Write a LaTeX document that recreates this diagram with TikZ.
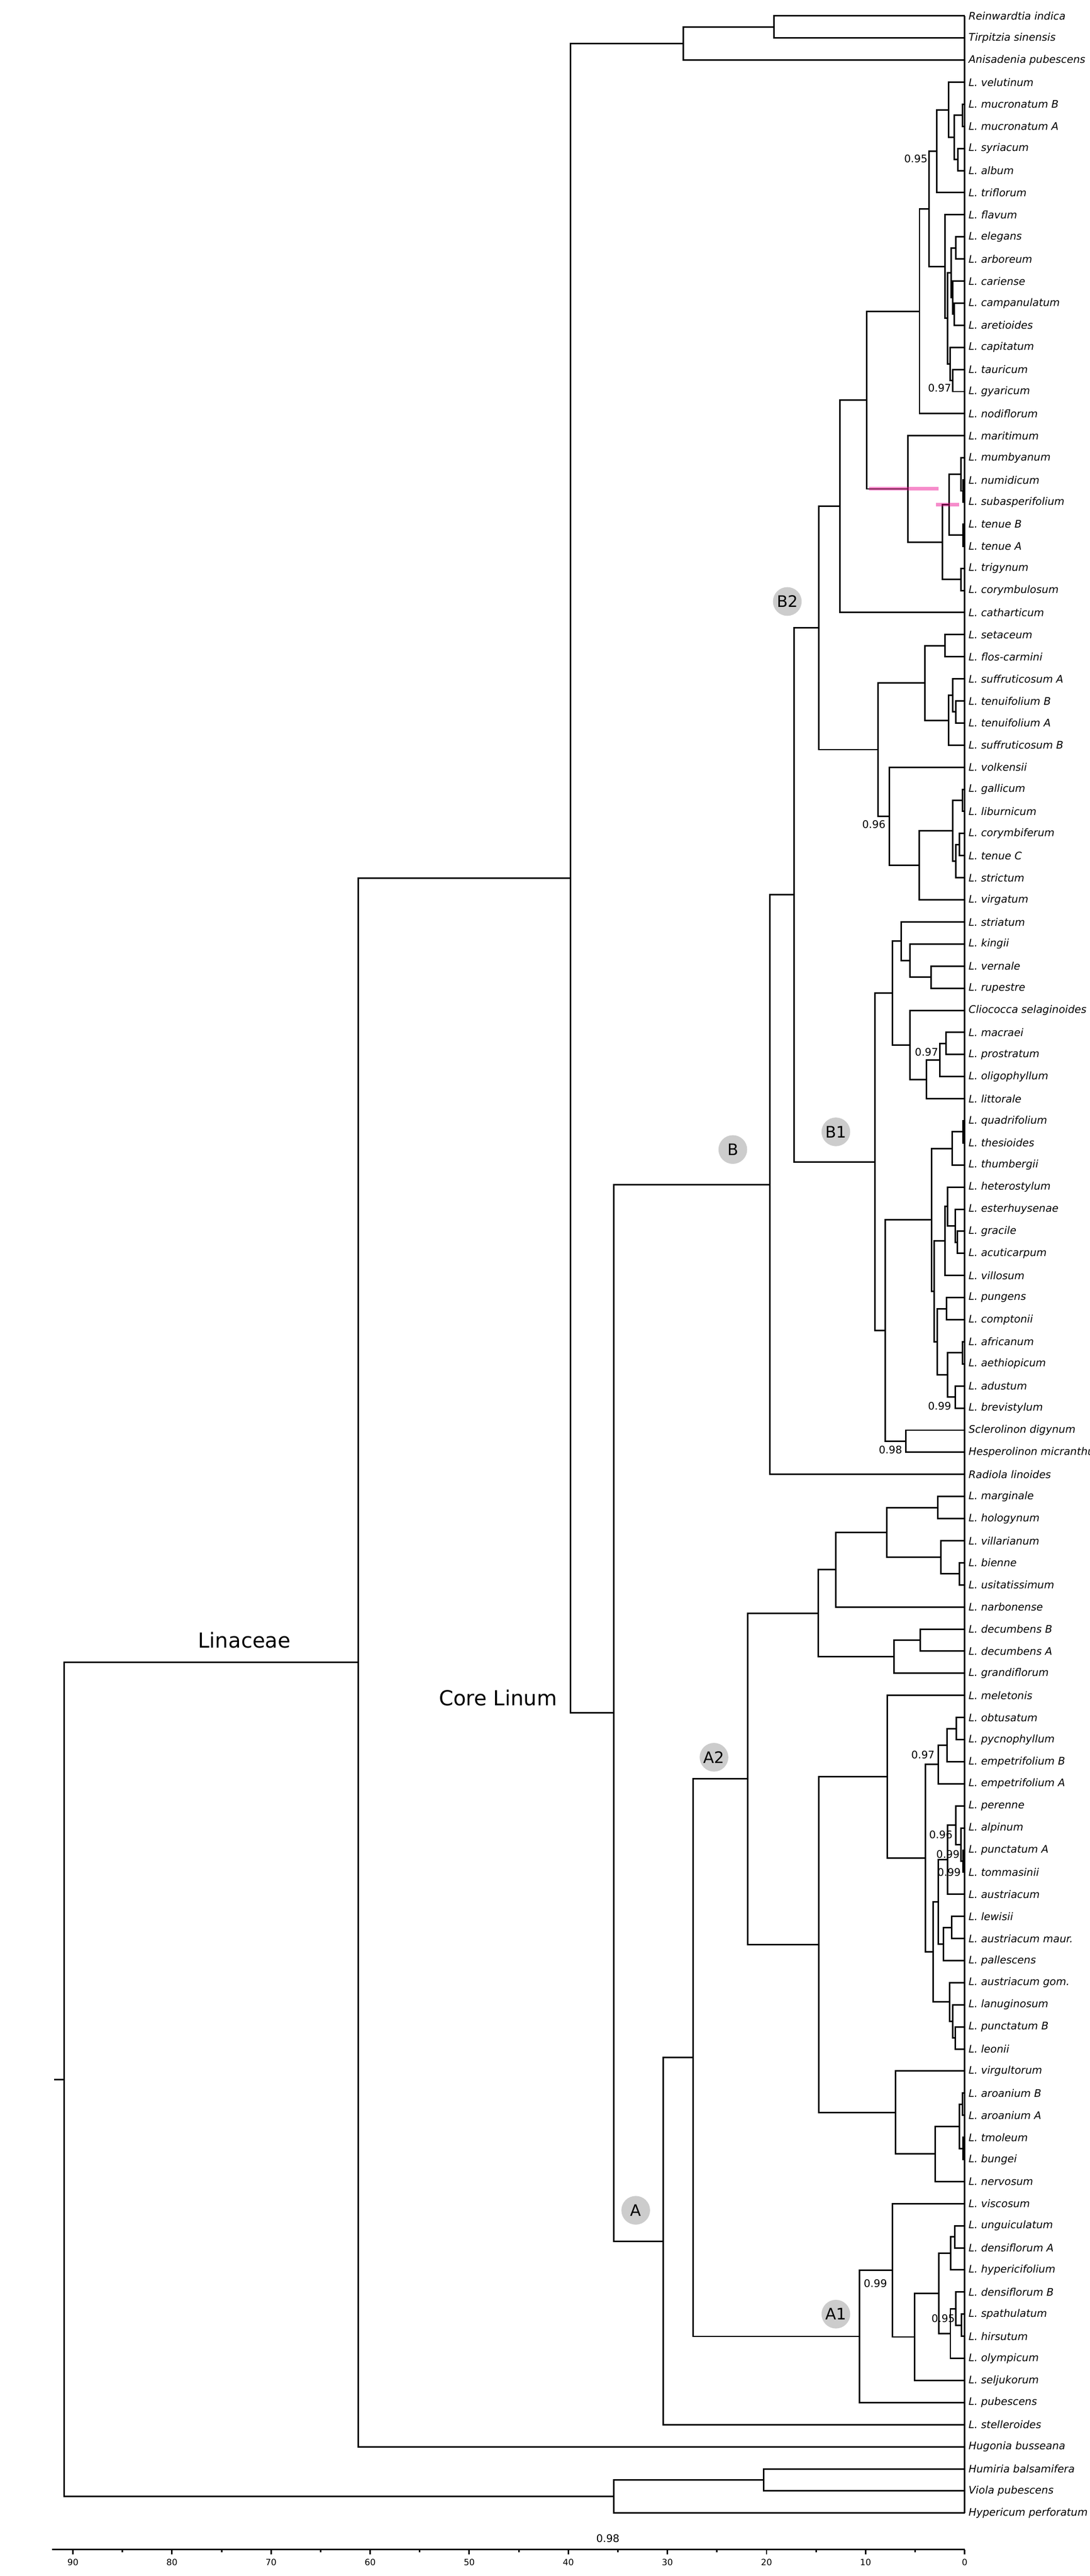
\documentclass[tikz,border=0pt]{standalone}
\usepackage{fontspec}
\setmainfont{DejaVu Sans}

\begin{document}
\begin{tikzpicture}[
x=-1.935mm, y=-4.315mm,
branch/.style={line width=0.85pt},
leaf/.style={anchor=west, inner xsep=0.7mm, inner ysep=0pt, font=\fontsize{5.8}{7}\selectfont\itshape},
prob/.style={anchor=east, inner sep=0pt, font=\fontsize{5.8}{7}\selectfont},
clade/.style={circle, fill=black!20, minimum size=5.6mm, inner sep=0pt, font=\fontsize{8.8}{10}\selectfont},
group/.style={font=\fontsize{11.5}{13}\selectfont},
hpd/.style={draw=magenta, draw opacity=0.45, line width=2pt},
tick/.style={font=\fontsize{4.8}{5}\selectfont, inner sep=0pt},
]
\path[use as bounding box, fill=white] (97.36,-0.718) rectangle (-12.61,115.85);

% tips, top to bottom
\foreach \sp [count=\i from 0] in {Reinwardtia indica, Tirpitzia sinensis,
  Anisadenia pubescens, L. velutinum, L. mucronatum B, L. mucronatum A,
  L. syriacum, L. album, L. triflorum, L. flavum, L. elegans, L. arboreum,
  L. cariense, L. campanulatum, L. aretioides, L. capitatum, L. tauricum,
  L. gyaricum, L. nodiflorum, L. maritimum, L. mumbyanum, L. numidicum,
  L. subasperifolium, L. tenue B, L. tenue A, L. trigynum, L. corymbulosum,
  L. catharticum, L. setaceum, L. flos-carmini, L. suffruticosum A,
  L. tenuifolium B, L. tenuifolium A, L. suffruticosum B, L. volkensii,
  L. gallicum, L. liburnicum, L. corymbiferum, L. tenue C, L. strictum,
  L. virgatum, L. striatum, L. kingii, L. vernale, L. rupestre,
  Cliococca selaginoides, L. macraei, L. prostratum, L. oligophyllum,
  L. littorale, L. quadrifolium, L. thesioides, L. thumbergii,
  L. heterostylum, L. esterhuysenae, L. gracile, L. acuticarpum, L. villosum,
  L. pungens, L. comptonii, L. africanum, L. aethiopicum, L. adustum,
  L. brevistylum, Sclerolinon digynum, Hesperolinon micranthum,
  Radiola linoides, L. marginale, L. hologynum, L. villarianum, L. bienne,
  L. usitatissimum, L. narbonense, L. decumbens B, L. decumbens A,
  L. grandiflorum, L. meletonis, L. obtusatum, L. pycnophyllum,
  L. empetrifolium B, L. empetrifolium A, L. perenne, L. alpinum,
  L. punctatum A, L. tommasinii, L. austriacum, L. lewisii,
  L. austriacum maur., L. pallescens, L. austriacum gom., L. lanuginosum,
  L. punctatum B, L. leonii, L. virgultorum, L. aroanium B, L. aroanium A,
  L. tmoleum, L. bungei, L. nervosum, L. viscosum, L. unguiculatum,
  L. densiflorum A, L. hypericifolium, L. densiflorum B, L. spathulatum,
  L. hirsutum, L. olympicum, L. seljukorum, L. pubescens, L. stelleroides,
  Hugonia busseana, Humiria balsamifera, Viola pubescens,
  Hypericum perforatum}
  \node[leaf] (t\i) at (0,\i) {\sp};

% internal nodes (age, row)
\coordinate (rt) at (19.26,0.5);
\coordinate (rta) at (28.4,1.25);
% B2
\coordinate (muc) at (0.24,4.5);
\coordinate (syal) at (0.67,6.5);
\coordinate (mucsy) at (1.03,5.5);
\coordinate (velg) at (1.63,4.25);
\coordinate (trig) at (2.83,6.125);
\coordinate (elar) at (0.89,10.5);
\coordinate (capr) at (1.03,13.5);
\coordinate (carg) at (1.20,12.75);
\coordinate (elcar) at (1.37,11.625);
\coordinate (tagy) at (1.20,16.5);
\coordinate (capg) at (1.49,15.75);
\coordinate (eleg) at (1.73,13.6875);
\coordinate (flag) at (1.99,11.34375);
\coordinate (syrg) at (3.60,8.734375);
\coordinate (nod) at (4.56,13.367);
\coordinate (numsub) at (0.19,21.5);
\coordinate (mumb) at (0.36,20.75);
\coordinate (tenba) at (0.19,23.5);
\coordinate (mten) at (1.56,22.125);
\coordinate (tric) at (0.36,25.5);
\coordinate (mtri) at (2.23,23.8125);
\coordinate (mari) at (5.71,21.40625);
\coordinate (nodm) at (9.90,17.3867);
\coordinate (cath) at (12.6,22.1934);
\coordinate (setf) at (1.99,28.5);
\coordinate (tenf) at (0.89,31.5);
\coordinate (sufa) at (1.20,30.75);
\coordinate (sufb) at (1.63,31.875);
\coordinate (setsuf) at (4.03,30.1875);
\coordinate (galb) at (0.24,35.5);
\coordinate (cote) at (0.53,37.5);
\coordinate (cost) at (0.89,38.25);
\coordinate (galst) at (1.20,36.875);
\coordinate (virg) at (4.60,38.4375);
\coordinate (volk) at (7.58,36.21875);
\coordinate (suvo) at (8.75,33.2031);
\coordinate (bt) at (14.7,27.6982);
% B1
\coordinate (verr) at (3.40,43.5);
\coordinate (king) at (5.52,42.75);
\coordinate (stri) at (6.43,41.875);
\coordinate (macp) at (1.87,46.5);
\coordinate (olig) at (2.52,47.25);
\coordinate (litt) at (3.84,48.125);
\coordinate (clio) at (5.52,46.5625);
\coordinate (stcl) at (7.31,44.21875);
\coordinate (quth) at (0.19,50.5);
\coordinate (thum) at (1.27,51.25);
\coordinate (grac) at (0.72,55.5);
\coordinate (este) at (0.96,54.75);
\coordinate (hete) at (1.73,53.875);
\coordinate (vill) at (1.97,55.4375);
\coordinate (puco) at (1.85,58.5);
\coordinate (afae) at (0.24,60.5);
\coordinate (adbr) at (0.96,62.5);
\coordinate (afad) at (1.73,61.5);
\coordinate (pung) at (2.76,60.0);
\coordinate (vipu) at (3.07,57.71875);
\coordinate (quvi) at (3.36,54.4844);
\coordinate (sche) at (5.92,64.5);
\coordinate (afri) at (8.03,59.4922);
\coordinate (bo) at (9.04,51.8555);
\coordinate (bb) at (17.2,39.7769);
\coordinate (bn) at (19.66,52.8884);
% A2
\coordinate (maho) at (2.71,67.5);
\coordinate (bius) at (0.53,70.5);
\coordinate (vibi) at (2.40,69.75);
\coordinate (mavi) at (7.84,68.625);
\coordinate (narb) at (13.0,70.3125);
\coordinate (decu) at (4.48,73.5);
\coordinate (gran) at (7.15,74.25);
\coordinate (naga) at (14.8,72.28125);
\coordinate (obpy) at (0.84,77.5);
\coordinate (empb) at (1.80,78.25);
\coordinate (empa) at (2.64,79.125);
\coordinate (puto) at (0.19,83.5);
\coordinate (alpi) at (0.36,82.75);
\coordinate (pere) at (0.89,81.875);
\coordinate (aust) at (1.73,83.4375);
\coordinate (lema) at (1.32,86.5);
\coordinate (pall) at (2.16,87.25);
\coordinate (peal) at (2.64,85.34375);
\coordinate (pble) at (0.96,91.5);
\coordinate (lanu) at (1.20,90.75);
\coordinate (gomu) at (1.51,89.875);
\coordinate (pego) at (3.19,87.6094);
\coordinate (empe) at (3.96,83.3672);
\coordinate (mele) at (7.79,79.6836);
\coordinate (arba) at (0.24,94.5);
\coordinate (tmbu) at (0.19,96.5);
\coordinate (artm) at (0.53,95.5);
\coordinate (nerv) at (2.95,96.75);
\coordinate (vigu) at (7.0,94.875);
\coordinate (mevi) at (14.7,87.2793);
\coordinate (at) at (21.9,79.7803);
% A1
\coordinate (unde) at (1.00,100.5);
\coordinate (hype) at (1.39,101.25);
\coordinate (spahi) at (0.31,104.5);
\coordinate (densb) at (0.89,103.75);
\coordinate (olym) at (1.44,104.875);
\coordinate (hyol) at (2.59,103.0625);
\coordinate (selj) at (5.04,105.03125);
\coordinate (visc) at (7.31,102.0156);
\coordinate (ao) at (10.6,105.0078);
% backbone
\coordinate (aa) at (27.4,92.394);
\coordinate (an) at (30.4,100.697);
\coordinate (core) at (35.4,76.7927);
\coordinate (lin) at (39.8,39.0214);
\coordinate (linac) at (61.2,74.5107);
\coordinate (huvi) at (20.3,111.5);
\coordinate (outg) at (35.4,112.25);
\coordinate (root) at (90.9,93.38);
\coordinate (rootstem) at (91.9,93.38);

% branches
\begin{scope}[branch]
\draw (rt) |- (t0) (rt) |- (t1);
\draw (rta) |- (rt) (rta) |- (t2);
\draw (muc) |- (t4) (muc) |- (t5);
\draw (syal) |- (t6) (syal) |- (t7);
\draw (mucsy) |- (muc) (mucsy) |- (syal);
\draw (velg) |- (t3) (velg) |- (mucsy);
\draw (trig) |- (velg) (trig) |- (t8);
\draw (elar) |- (t10) (elar) |- (t11);
\draw (capr) |- (t13) (capr) |- (t14);
\draw (carg) |- (t12) (carg) |- (capr);
\draw (elcar) |- (elar) (elcar) |- (carg);
\draw (tagy) |- (t16) (tagy) |- (t17);
\draw (capg) |- (t15) (capg) |- (tagy);
\draw (eleg) |- (elcar) (eleg) |- (capg);
\draw (flag) |- (t9) (flag) |- (eleg);
\draw (syrg) |- (trig) (syrg) |- (flag);
\draw (nod) |- (syrg) (nod) |- (t18);
\draw (numsub) |- (t21) (numsub) |- (t22);
\draw (mumb) |- (t20) (mumb) |- (numsub);
\draw (tenba) |- (t23) (tenba) |- (t24);
\draw (mten) |- (mumb) (mten) |- (tenba);
\draw (tric) |- (t25) (tric) |- (t26);
\draw (mtri) |- (mten) (mtri) |- (tric);
\draw (mari) |- (t19) (mari) |- (mtri);
\draw (nodm) |- (nod) (nodm) |- (mari);
\draw (cath) |- (nodm) (cath) |- (t27);
\draw (setf) |- (t28) (setf) |- (t29);
\draw (tenf) |- (t31) (tenf) |- (t32);
\draw (sufa) |- (t30) (sufa) |- (tenf);
\draw (sufb) |- (sufa) (sufb) |- (t33);
\draw (setsuf) |- (setf) (setsuf) |- (sufb);
\draw (galb) |- (t35) (galb) |- (t36);
\draw (cote) |- (t37) (cote) |- (t38);
\draw (cost) |- (cote) (cost) |- (t39);
\draw (galst) |- (galb) (galst) |- (cost);
\draw (virg) |- (galst) (virg) |- (t40);
\draw (volk) |- (t34) (volk) |- (virg);
\draw (suvo) |- (setsuf) (suvo) |- (volk);
\draw (bt) |- (cath) (bt) |- (suvo);
\draw (verr) |- (t43) (verr) |- (t44);
\draw (king) |- (t42) (king) |- (verr);
\draw (stri) |- (t41) (stri) |- (king);
\draw (macp) |- (t46) (macp) |- (t47);
\draw (olig) |- (macp) (olig) |- (t48);
\draw (litt) |- (olig) (litt) |- (t49);
\draw (clio) |- (t45) (clio) |- (litt);
\draw (stcl) |- (stri) (stcl) |- (clio);
\draw (quth) |- (t50) (quth) |- (t51);
\draw (thum) |- (quth) (thum) |- (t52);
\draw (grac) |- (t55) (grac) |- (t56);
\draw (este) |- (t54) (este) |- (grac);
\draw (hete) |- (t53) (hete) |- (este);
\draw (vill) |- (hete) (vill) |- (t57);
\draw (puco) |- (t58) (puco) |- (t59);
\draw (afae) |- (t60) (afae) |- (t61);
\draw (adbr) |- (t62) (adbr) |- (t63);
\draw (afad) |- (afae) (afad) |- (adbr);
\draw (pung) |- (puco) (pung) |- (afad);
\draw (vipu) |- (vill) (vipu) |- (pung);
\draw (quvi) |- (thum) (quvi) |- (vipu);
\draw (sche) |- (t64) (sche) |- (t65);
\draw (afri) |- (quvi) (afri) |- (sche);
\draw (bo) |- (stcl) (bo) |- (afri);
\draw (bb) |- (bt) (bb) |- (bo);
\draw (bn) |- (bb) (bn) |- (t66);
\draw (maho) |- (t67) (maho) |- (t68);
\draw (bius) |- (t70) (bius) |- (t71);
\draw (vibi) |- (t69) (vibi) |- (bius);
\draw (mavi) |- (maho) (mavi) |- (vibi);
\draw (narb) |- (mavi) (narb) |- (t72);
\draw (decu) |- (t73) (decu) |- (t74);
\draw (gran) |- (decu) (gran) |- (t75);
\draw (naga) |- (narb) (naga) |- (gran);
\draw (obpy) |- (t77) (obpy) |- (t78);
\draw (empb) |- (obpy) (empb) |- (t79);
\draw (empa) |- (empb) (empa) |- (t80);
\draw (puto) |- (t83) (puto) |- (t84);
\draw (alpi) |- (t82) (alpi) |- (puto);
\draw (pere) |- (t81) (pere) |- (alpi);
\draw (aust) |- (pere) (aust) |- (t85);
\draw (lema) |- (t86) (lema) |- (t87);
\draw (pall) |- (lema) (pall) |- (t88);
\draw (peal) |- (aust) (peal) |- (pall);
\draw (pble) |- (t91) (pble) |- (t92);
\draw (lanu) |- (t90) (lanu) |- (pble);
\draw (gomu) |- (t89) (gomu) |- (lanu);
\draw (pego) |- (peal) (pego) |- (gomu);
\draw (empe) |- (empa) (empe) |- (pego);
\draw (mele) |- (t76) (mele) |- (empe);
\draw (arba) |- (t94) (arba) |- (t95);
\draw (tmbu) |- (t96) (tmbu) |- (t97);
\draw (artm) |- (arba) (artm) |- (tmbu);
\draw (nerv) |- (artm) (nerv) |- (t98);
\draw (vigu) |- (t93) (vigu) |- (nerv);
\draw (mevi) |- (mele) (mevi) |- (vigu);
\draw (at) |- (naga) (at) |- (mevi);
\draw (unde) |- (t100) (unde) |- (t101);
\draw (hype) |- (unde) (hype) |- (t102);
\draw (spahi) |- (t104) (spahi) |- (t105);
\draw (densb) |- (t103) (densb) |- (spahi);
\draw (olym) |- (densb) (olym) |- (t106);
\draw (hyol) |- (hype) (hyol) |- (olym);
\draw (selj) |- (hyol) (selj) |- (t107);
\draw (visc) |- (t99) (visc) |- (selj);
\draw (ao) |- (visc) (ao) |- (t108);
\draw (aa) |- (at) (aa) |- (ao);
\draw (an) |- (aa) (an) |- (t109);
\draw (core) |- (bn) (core) |- (an);
\draw (lin) |- (rta) (lin) |- (core);
\draw (linac) |- (lin) (linac) |- (t110);
\draw (huvi) |- (t111) (huvi) |- (t112);
\draw (outg) |- (huvi) (outg) |- (t113);
\draw (root) |- (linac) (root) |- (outg);
\draw (rootstem) -- (root);
\draw (t0.west) -- (t113.west);
\end{scope}

% HPD bars
\draw[hpd] (9.66,21.406) -- (2.64,21.406);
\draw[hpd] (2.88,22.125) -- (0.55,22.125);

% posterior values
\node[prob] (p1) at (3.72,6.47) {0.95};
\node[prob] (p2) at (1.32,16.84) {0.97};
\node[prob] (p3) at (7.96,36.59) {0.96};
\node[prob] (p4) at (2.64,46.9) {0.97};
\node[prob] (p5) at (1.32,62.9) {0.99};
\node[prob] (p6) at (6.28,64.9) {0.98};
\node[prob] (p7) at (3.0,78.7) {0.97};
\node[prob] (p8) at (1.2,82.3) {0.96};
\node[prob] (p9) at (0.48,83.2) {0.99};
\node[prob] (p10) at (0.36,84.0) {0.99};
\node[prob] (p11) at (7.8,102.6) {0.99};
\node[prob] (p12) at (0.96,104.2) {0.95};
\node[prob] (p13) at (34.8,114.15) {0.98};

% clades
\node[clade] (cB2) at (17.9,26.5) {B2};
\node[clade] (cB) at (23.4,51.3) {B};
\node[clade] (cB1) at (13.0,50.5) {B1};
\node[clade] (cA2) at (25.3,78.8) {A2};
\node[clade] (cA) at (33.2,99.3) {A};
\node[clade] (cA1) at (13.0,104.0) {A1};
\node[group] (glin) at (72.7,73.5) {Linaceae};
\node[group] (gcore) at (47.1,76.1) {Core Linum};

% time axis
\draw[branch] (92.1,114.65) -- (0,114.65);
\foreach \a in {0,10,...,90} {
  \draw[branch] (\a,114.65) -- (\a,114.88);
  \node[tick] (ax\a) at (\a,115.22) {\a};
}
\foreach \a in {5,15,...,85}
  \draw[branch] (\a,114.65) -- (\a,114.77);

\end{tikzpicture}
\end{document}
